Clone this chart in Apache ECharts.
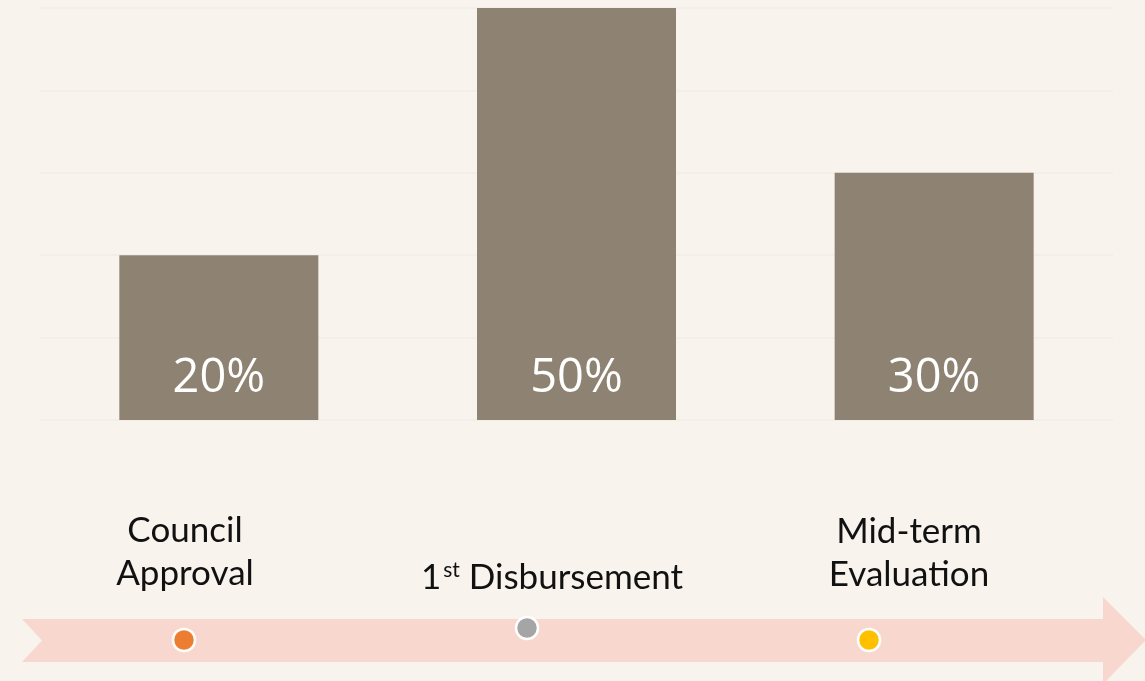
<!DOCTYPE html>
<html>
<head>
<meta charset="utf-8">
<script src="https://cdn.jsdelivr.net/npm/echarts@6/dist/echarts.min.js"></script>
<style>
html,body{margin:0;padding:0;background:#F8F3ED;}
#c{width:1145px;height:681px;}
</style>
</head>
<body>
<div id="c"></div>
<script>
// Data
var categories = ['Council Approval', '1st Disbursement', 'Mid-term Evaluation'];
var shares = [20, 50, 30];
var yTicks = [0, 10, 20, 30, 40, 50];
// Timeline milestones (position along timeline in px-space, vertical offset)
var milestoneX = [184, 527, 869];
var milestoneY = [640, 628, 640];
var milestoneColors = ['#ED7D31', '#A5A5A5', '#FFC000'];

var chart = echarts.init(document.getElementById('c'), null, {renderer: 'canvas'});
var labelFont = 'Lato, "Open Sans", sans-serif';
var option = {
  backgroundColor: '#F8F3ED',
  animation: false,
  grid: [
    {left: 40, right: 32, top: 8, bottom: 261},
    {left: 0, right: 0, top: 0, bottom: 0}
  ],
  xAxis: [
    {type: 'category', data: categories, gridIndex: 0,
     axisLine: {show: false}, axisTick: {show: false}, axisLabel: {show: false}},
    {type: 'value', gridIndex: 1, min: 0, max: 1145, show: false}
  ],
  yAxis: [
    {type: 'value', gridIndex: 0, min: yTicks[0], max: yTicks[yTicks.length-1], interval: 10,
     axisLabel: {show: false}, axisLine: {show: false}, axisTick: {show: false},
     splitLine: {lineStyle: {color: '#F2EEE9', width: 2}}},
    {type: 'value', gridIndex: 1, min: 0, max: 681, inverse: true, show: false}
  ],
  graphic: [
    {type: 'polygon', z: 0,
     shape: {points: [[22,619],[1103,619],[1103,597],[1146,640],[1103,684],[1103,662],[22,662],[42,640.5]]},
     style: {fill: '#F8D8CE'}},
    {type: 'text', z: 5, x: 185, y: 552,
     style: {text: 'Council\nApproval', font: '35px ' + labelFont, fill: '#111', textAlign: 'center', textVerticalAlign: 'middle', lineHeight: 43}},
    {type: 'text', z: 5, x: 552, y: 578,
     style: {text: '{n|1}{s|st}{n| Disbursement}', textAlign: 'center', textVerticalAlign: 'middle',
       rich: {n: {font: '35px ' + labelFont, fill: '#111'},
              s: {font: '21px ' + labelFont, fill: '#111', padding: [0,0,16,2]}}}},
    {type: 'text', z: 5, x: 909, y: 553,
     style: {text: 'Mid-term\nEvaluation', font: '35px ' + labelFont, fill: '#111', textAlign: 'center', textVerticalAlign: 'middle', lineHeight: 43}}
  ],
  series: [
    {type: 'bar', xAxisIndex: 0, yAxisIndex: 0, data: shares, barWidth: 199,
     itemStyle: {color: '#8E8272'},
     label: {show: true, position: 'insideBottom', distance: 18, color: '#fff',
       fontFamily: '"Open Sans", sans-serif', fontSize: 47, formatter: '{c}%'}},
    {type: 'scatter', xAxisIndex: 1, yAxisIndex: 1, symbolSize: 22, z: 10,
     data: milestoneX.map(function(x, i){ return {value: [x, milestoneY[i]], itemStyle: {color: milestoneColors[i]}}; }),
     itemStyle: {borderColor: '#fff', borderWidth: 2.5, opacity: 1}}
  ]
};
chart.setOption(option);
</script>
</body>
</html>
